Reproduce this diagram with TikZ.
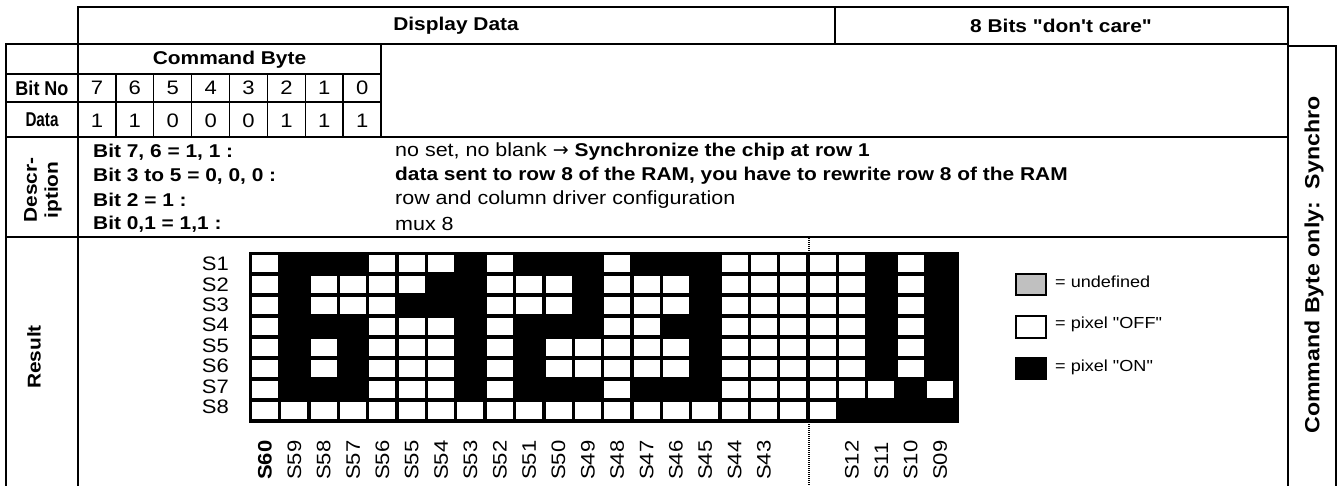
\documentclass[tikz,border=0pt]{standalone}
\usepackage{fontspec}
\setmainfont{Liberation Sans}[FakeStretch=1.13,Ligatures=TeXOff]
\newfontfamily\arrowfont{DejaVu Sans}
\usepackage{graphicx}
\definecolor{undefgray}{RGB}{192,192,192}

\begin{document}
\begin{tikzpicture}[x=1pt,y=-1pt,
    frameline/.style={line width=2.4pt},
    bitline/.style={line width=1.3pt},
    txt/.style={inner sep=0pt,font=\fontsize{19}{21}\selectfont},
    lbl/.style={inner sep=0pt,font=\fontsize{19.5}{21}\selectfont},
    hdr/.style={inner sep=0pt,font=\fontsize{18.5}{21}\selectfont\bfseries},
    lgd/.style={inner sep=0pt,font=\fontsize{16}{18}\selectfont}]

\useasboundingbox (0,0) rectangle (1338,486);

%frame
\draw[frameline] (78,486) -- (78,7) -- (1288,7) -- (1288,486);
\draw[frameline] (835,7) -- (835,44);
\draw[frameline] (6,486) -- (6,44) -- (1288,44);
\draw[frameline] (1288,46) -- (1336,46) -- (1336,486);
\draw[frameline] (6,137) -- (1288,137);
\draw[frameline] (6,237) -- (1288,237);
\draw[frameline] (6,74) -- (381,74);
\draw[frameline] (381,44) -- (381,137);
\draw[bitline] (6,102) -- (381,102);
\foreach \i in {1,...,7}
    \draw[bitline] (78+37.875*\i,74) -- (78+37.875*\i,137);

%headers
\node[hdr] (disp) at (456,26) {Display Data};
\node[hdr] (dontcare) at (1061,26) {8 Bits "don't care"};
\node[hdr] (cmdbyte) at (229.5,60) {Command Byte};
\node[hdr,font=\fontsize{20}{21}\selectfont\bfseries] (bitno) at (42,88) {\resizebox{53pt}{\height}{Bit No}};
\node[hdr,font=\fontsize{20}{21}\selectfont\bfseries] (datalbl) at (42,120) {\resizebox{33pt}{\height}{Data}};
\foreach \b [count=\i from 0] in {7,6,5,4,3,2,1,0}
    \node[lbl] (bit\b) at (97+37.875*\i,88) {\b};
\foreach \d [count=\i from 0] in {1,1,0,0,0,1,1,1}
    \node[lbl] (dat\i) at (97+37.875*\i,121) {\d};

%description
\node[hdr,rotate=90,align=center] (descr) at (43,190) {Descr-\\iption};
\node[hdr,anchor=west] (desc1) at (93,152) {Bit 7, 6 = 1, 1 :};
\node[hdr,anchor=west] (desc2) at (93,176) {Bit 3 to 5 = 0, 0, 0 :};
\node[hdr,anchor=west] (desc3) at (93,200) {Bit 2 = 1 :};
\node[hdr,anchor=west] (desc4) at (93,224) {Bit 0,1 = 1,1 :};
\node[txt,anchor=west] (expl1) at (395,152) {no set, no blank {\arrowfont →} \textbf{\fontsize{18.5}{21}\selectfont Synchronize the chip at row 1}};
\node[hdr,anchor=west] (expl2) at (395,176) {data sent to row 8 of the RAM, you have to rewrite row 8 of the RAM};
\node[txt,anchor=west] (expl3) at (395,200) {row and column driver configuration};
\node[txt,anchor=west] (expl4) at (395,224) {mux 8};

%result
\node[hdr,rotate=90] (result) at (34,357) {Result};
\fill (249,252) rectangle (959,423);
\foreach \row [count=\r from 0] in {
    {0,1,1,1,0,0,0,1,0,1,1,1,0,1,1,1,0,0,0,0,0,1,0,1},
    {0,1,0,0,0,0,1,1,0,0,0,1,0,0,0,1,0,0,0,0,0,1,0,1},
    {0,1,0,0,0,1,1,1,0,0,0,1,0,0,0,1,0,0,0,0,0,1,0,1},
    {0,1,1,1,0,0,0,1,0,1,1,1,0,0,1,1,0,0,0,0,0,1,0,1},
    {0,1,0,1,0,0,0,1,0,1,0,0,0,0,0,1,0,0,0,0,0,1,0,1},
    {0,1,0,1,0,0,0,1,0,1,0,0,0,0,0,1,0,0,0,0,0,1,0,1},
    {0,1,1,1,0,0,0,1,0,1,1,1,0,1,1,1,0,0,0,0,0,0,1,0},
    {0,0,0,0,0,0,0,0,0,0,0,0,0,0,0,0,0,0,0,0,1,1,1,1}}
    \foreach \p [count=\c from 0] in \row
        {\ifnum\p=0 \fill[white] (252+29.35*\c,255+21*\r) rectangle ++(26,17); \fi}
\foreach \r in {1,...,8}
    \node[lbl,anchor=east] (s\r) at (229,264+20.4*\r-20.4) {S\r};
\foreach \t [count=\c from 0] in {\textbf{S60},S59,S58,S57,S56,S55,S54,S53,S52,S51,S50,S49,S48,S47,S46,S45,S44,S43}
    \node[lbl,rotate=90,anchor=west] (col\c) at (265+29.35*\c,480) {\t};
\foreach \t [count=\c from 20] in {S12,S11,S10,S09}
    \node[lbl,rotate=90,anchor=west] (col\c) at (265+29.35*\c,480) {\t};
\draw[line width=2.2pt,dash pattern=on 1.2pt off 0.8pt] (809,238) -- (809,486);

%legend
\draw[line width=2pt,fill=undefgray] (1016,274) rectangle (1046,295);
\draw[line width=2pt,fill=white] (1016,316) rectangle (1046,338);
\fill (1015,357) rectangle (1047,380);
\node[lgd,anchor=west] (lundef) at (1055,282) {= undefined};
\node[lgd,anchor=west] (loff) at (1055,324) {= pixel "OFF"};
\node[lgd,anchor=west] (lon) at (1055,367) {= pixel "ON"};

%right column
\node[hdr,rotate=90,font=\fontsize{20.5}{22}\selectfont\bfseries] (synchro) at (1314,265) {Command Byte only:\ \ Synchro};

\end{tikzpicture}
\end{document}
